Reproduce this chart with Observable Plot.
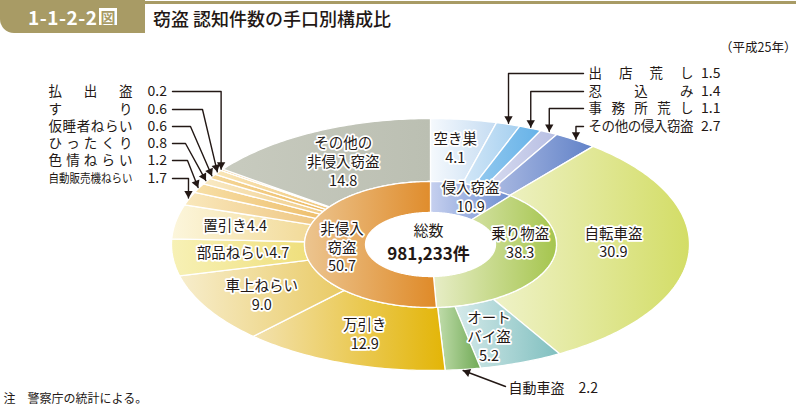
<!DOCTYPE html>
<html><head><meta charset="utf-8">
<script src="https://cdn.jsdelivr.net/npm/d3@7"></script>
<script src="https://cdn.jsdelivr.net/npm/@observablehq/plot@0.6"></script>
<style>
body{margin:0;background:#fff;font-family:"Noto Sans CJK JP",sans-serif;}
#wrap{position:relative;width:796px;height:407px;overflow:hidden;background:#fff}
#chart{position:absolute;left:0;top:0}
#bar{position:absolute;left:0;top:1px;width:796px;height:3px;background:#a89b65}
#badge{position:absolute;left:0;top:0;width:145px;height:33px;background:#a89b65;border-bottom-left-radius:14px;color:#fff;font-weight:bold;font-size:19px;line-height:33px;text-align:center;letter-spacing:0.5px}
#badge span{display:inline-block;background:#fff;color:#a89b65;font-size:15px;line-height:17px;padding:0 1px;margin-left:2px;vertical-align:2px}
#title{position:absolute;left:153px;top:5px;font-size:18px;line-height:26px;color:#231815;font-weight:500}
</style></head>
<body>
<div id="wrap">
  <div id="chart"></div>
  <div id="bar"></div>
  <div id="badge">1-1-2-2<span>図</span></div>
  <div id="title">窃盗 認知件数の手口別構成比</div>
</div>
<script>
// ---------- data ----------
const innerNames = ["侵入窃盗", "乗り物盗", "非侵入窃盗"];
const innerValues = [10.9, 38.3, 50.7];
const outerNames = ["空き巣", "出店荒し", "忍込み", "事務所荒し", "その他の侵入窃盗",
  "自転車盗", "オートバイ盗", "自動車盗",
  "万引き", "車上ねらい", "部品ねらい", "置引き", "自動販売機ねらい", "色情ねらい",
  "ひったくり", "仮睡者ねらい", "すり", "払出盗", "その他の非侵入窃盗"];
const outerValues = [4.1, 1.5, 1.4, 1.1, 2.7, 30.9, 5.2, 2.2, 12.9, 9.0, 4.7, 4.4, 1.7, 1.2, 0.8, 0.6, 0.6, 0.2, 14.8];
const totalCount = "981,233";
const totalLabel = "総数";
const unitLabel = "件";
const yearLabel = "（平成25年）";
const noteLabel = "注　警察庁の統計による。";

// ---------- style / layout ----------
const innerColors = {
  "侵入窃盗": ["#c6d0ef", "#6e8ed0"], "乗り物盗": ["#e7edc6", "#a5c54e"], "非侵入窃盗": ["#ecc590", "#df8a28"]
};
const outerColors = {
  "空き巣": ["#f5f9fd", "#c5dcf2"], "出店荒し": ["#d3e7f7", "#a6d0f0"], "忍込み": ["#93c9ef", "#66b2e8"],
  "事務所荒し": ["#d8dcf0", "#b7bee3"], "その他の侵入窃盗": ["#abbae2", "#6182c8"],
  "自転車盗": ["#eff2c8", "#d3dd66"], "オートバイ盗": ["#d6eaea", "#7fbfbf"], "自動車盗": ["#c0dcaa", "#70aa56"],
  "万引き": ["#f3e2b0", "#e3b507"], "車上ねらい": ["#f7edcc", "#e9ca64"], "部品ねらい": ["#f7f1b6", "#efdf7c"],
  "置引き": ["#fcf6dc", "#f2da98"], "自動販売機ねらい": ["#f9e8bc", "#efc784"], "色情ねらい": ["#f7dfa6", "#eebf6e"],
  "ひったくり": ["#f9eac4", "#f0cc88"], "仮睡者ねらい": ["#f5d89a", "#edba64"], "すり": ["#f9e6b8", "#f0c87e"],
  "払出盗": ["#f0c070", "#e9ae4e"], "その他の非侵入窃盗": ["#c8cbbf", "#bbbfb2"]
};
// display text for in-ring labels
const innerLabelText = {"侵入窃盗": "侵入窃盗", "乗り物盗": "乗り物盗", "非侵入窃盗": "非侵入\n窃盗"};
const outerLabelText = {"空き巣": "空き巣", "自転車盗": "自転車盗", "オートバイ盗": "オート\nバイ盗", "万引き": "万引き",
  "車上ねらい": "車上ねらい", "その他の非侵入窃盗": "その他の\n非侵入窃盗"};
const inlineLabels = {"部品ねらい": true, "置引き": true};
const labelShift = {"侵入窃盗": [8, -3], "乗り物盗": [-1, -17], "非侵入窃盗": [7, 1], "自転車盗": [-9, -10],
  "オートバイ盗": [-9, 3], "置引き": [-6, -2], "部品ねらい": [4, -2], "車上ねらい": [-3, 2], "その他の非侵入窃盗": [-1, 1], "空き巣": [0, -3]};
const rightCallouts = ["出店荒し", "忍込み", "事務所荒し", "その他の侵入窃盗"];
const leftCallouts = ["払出盗", "すり", "仮睡者ねらい", "ひったくり", "色情ねらい", "自動販売機ねらい"];
const leftElbowX = [null, 202, 190, 185, 187, 188];

const W = 796, H = 407;
const C = {x: 430, y: 244};
const R = {hole: [65, 32], mid: [126, 63], out: [259, 126]};
const ink = "#231815";

function pt(frac, [rx, ry]) {
  const a = frac * 2 * Math.PI;
  return [C.x + rx * Math.sin(a), C.y - ry * Math.cos(a)];
}
function ring(names, values, r0, r1) {
  const sum = d3.sum(values);
  let acc = 0;
  return names.map((name, i) => {
    const f0 = acc / sum; acc += values[i]; const f1 = acc / sum;
    const n = Math.max(3, Math.ceil((f1 - f0) * 400));
    const pts = [];
    for (let k = 0; k <= n; k++) pts.push(pt(f0 + (f1 - f0) * k / n, r1));
    for (let k = n; k >= 0; k--) pts.push(pt(f0 + (f1 - f0) * k / n, r0));
    pts.push(pts[0]);
    return {name, value: values[i], f0, f1, fm: (f0 + f1) / 2, r0, r1, pts: pts.map(([x, y]) => ({x, y}))};
  });
}
const innerSegs = ring(innerNames, innerValues, R.hole, R.mid);
const outerSegs = ring(outerNames, outerValues, R.mid, R.out);

const gradDefs = [];
innerSegs.forEach((s, i) => { s.grad = "gi" + i; gradDefs.push([s.grad, ...innerColors[s.name]]); });
outerSegs.forEach((s, i) => { s.grad = "go" + i; gradDefs.push([s.grad, ...outerColors[s.name]]); });

const defsMark = () => {
  const defs = d3.create("svg:defs");
  for (const [id, c0, c1] of gradDefs) {
    const g = defs.append("linearGradient").attr("id", id).attr("x1", 0).attr("x2", 1).attr("y1", 0).attr("y2", 0);
    g.append("stop").attr("offset", 0).attr("stop-color", c0);
    g.append("stop").attr("offset", 1).attr("stop-color", c1);
  }
  return defs.node();
};

// in-ring labels
function midLabel(s, textMap) {
  const rm = [(s.r0[0] + s.r1[0]) / 2, (s.r0[1] + s.r1[1]) / 2];
  const [x, y] = pt(s.fm, rm);
  const sh = labelShift[s.name] || [0, 0];
  const v = s.value.toFixed(1);
  const t = inlineLabels[s.name] ? s.name + v : textMap[s.name] + "\n" + v;
  return {x: x + sh[0], y: y + sh[1], text: t};
}
const ringLabels = [
  ...innerSegs.map(s => midLabel(s, innerLabelText)),
  ...outerSegs.filter(s => outerLabelText[s.name] || inlineLabels[s.name]).map(s => midLabel(s, outerLabelText))
];

// callouts
const leaders = [], heads = [], calloutNames = [], calloutValues = [];
function addHead(from, tip) {
  const dx = tip[0] - from[0], dy = tip[1] - from[1];
  const L = Math.hypot(dx, dy), ux = dx / L, uy = dy / L;
  const back = 4.6;
  heads.push({x: tip[0] - ux * back, y: tip[1] - uy * back, rot: Math.atan2(ux, -uy) * 180 / Math.PI});
}
const segBy = Object.fromEntries(outerSegs.map(s => [s.name, s]));
const rightRows = [73, 91, 108, 126];
rightCallouts.forEach((name, i) => {
  const s = segBy[name];
  const tip = pt(s.fm, [R.out[0] + 1, R.out[1] + 1]);
  const y = rightRows[i];
  const pts = [[583, y], [tip[0], y], tip];
  pts.forEach(p => leaders.push({id: "r" + i, x: p[0], y: p[1]}));
  addHead(pts[1], tip);
  calloutNames.push({x: 588, y, text: name, side: "r"});
  calloutValues.push({x: 720, y, text: s.value.toFixed(1), anchor: "end"});
});
const leftRows = [91, 109, 126, 143, 160, 178];
leftCallouts.forEach((name, i) => {
  const s = segBy[name];
  const tip = pt(s.fm, [R.out[0] + 1, R.out[1] + 1]);
  const y = leftRows[i];
  const ex = leftElbowX[i] == null ? tip[0] : leftElbowX[i];
  const pts = [[172, y], [ex, y], tip];
  pts.forEach(p => leaders.push({id: "l" + i, x: p[0], y: p[1]}));
  addHead(pts[1], tip);
  calloutNames.push({x: 48, y, text: name, side: "l"});
  calloutValues.push({x: 147, y, text: s.value.toFixed(1), anchor: "start"});
});
// 自動車盗 callout (below)
{
  const s = segBy["自動車盗"];
  const tip = pt(s.fm, [R.out[0] + 1, R.out[1] + 1]);
  const from = [505, 386];
  [from, tip].forEach(p => leaders.push({id: "b", x: p[0], y: p[1]}));
  addHead(from, tip);
}
const bottomLabel = [{x: 508, y: 388, text: "自動車盗　" + segBy["自動車盗"].value.toFixed(1)}];

const ringMark = (s) => Plot.line(s.pts, {x: "x", y: "y", fill: `url(#${s.grad})`, stroke: "#ffffff", strokeWidth: 1.3, strokeLinejoin: "round"});

const chart = Plot.plot({
  width: W, height: H, margin: 0,
  style: {fontFamily: '"Noto Sans CJK JP", sans-serif', background: "transparent"},
  x: {domain: [0, W], range: [0, W], axis: null},
  y: {domain: [0, H], range: [0, H], axis: null},
  marks: [
    defsMark,
    ...outerSegs.map(ringMark),
    ...innerSegs.map(ringMark),
    Plot.text(ringLabels, {x: "x", y: "y", text: "text", fontSize: 14.5, lineHeight: 1.3, fill: ink,
      stroke: "white", strokeWidth: 3.5, paintOrder: "stroke", strokeLinejoin: "round"}),
    Plot.text([{x: 428, y: 231, t: totalLabel}], {x: "x", y: "y", text: "t", fontSize: 15, fill: ink}),
    Plot.text([{x: 428, y: 254, t: totalCount + unitLabel}], {x: "x", y: "y", text: "t", fontSize: 17, fontWeight: 600, fill: ink}),
    Plot.line(leaders, {x: "x", y: "y", z: "id", stroke: ink, strokeWidth: 1.4, curve: "linear"}),
    Plot.dot(heads, {x: "x", y: "y", rotate: "rot", symbol: "triangle", r: 3.1, fill: ink, stroke: "none"}),
    Plot.text(calloutNames.filter(d => d.side === "r"), {x: "x", y: "y", text: "text", fontSize: 13.5, textAnchor: "start", fill: ink}),
    Plot.text(calloutNames.filter(d => d.side === "l" && d.text.length <= 6), {x: "x", y: "y", text: "text", fontSize: 13.5, textAnchor: "start", fill: ink}),
    Plot.text(calloutNames.filter(d => d.side === "l" && d.text.length > 6), {x: "x", y: "y", text: "text", fontSize: 12.5, textAnchor: "start", fill: ink}),
    Plot.text(calloutValues.filter(d => d.anchor === "end"), {x: "x", y: "y", text: "text", fontSize: 14, textAnchor: "end", fill: ink}),
    Plot.text(calloutValues.filter(d => d.anchor === "start"), {x: "x", y: "y", text: "text", fontSize: 14, textAnchor: "start", fill: ink}),
    Plot.text(bottomLabel, {x: "x", y: "y", text: "text", fontSize: 14, textAnchor: "start", fill: ink}),
    Plot.text([{x: 796, y: 47, t: yearLabel}], {x: "x", y: "y", text: "t", fontSize: 12.5, textAnchor: "end", fill: ink}),
    Plot.text([{x: 3, y: 399, t: noteLabel}], {x: "x", y: "y", text: "t", fontSize: 12, textAnchor: "start", fill: ink})
  ]
});
// justify callout names to a fixed width (as in the reference)
const nameSide = Object.fromEntries(calloutNames.map(d => [d.text, d.side]));
d3.select(chart).selectAll("text").each(function() {
  const t = this.textContent;
  const side = nameSide[t];
  if (!side) return;
  if (side === "r") {
    this.setAttribute("textLength", 105);
    this.setAttribute("lengthAdjust", "spacing");
  } else {
    this.setAttribute("textLength", 84);
    this.setAttribute("lengthAdjust", t.length > 6 ? "spacingAndGlyphs" : "spacing");
  }
});
document.getElementById("chart").appendChild(chart);
</script>
</body></html>
